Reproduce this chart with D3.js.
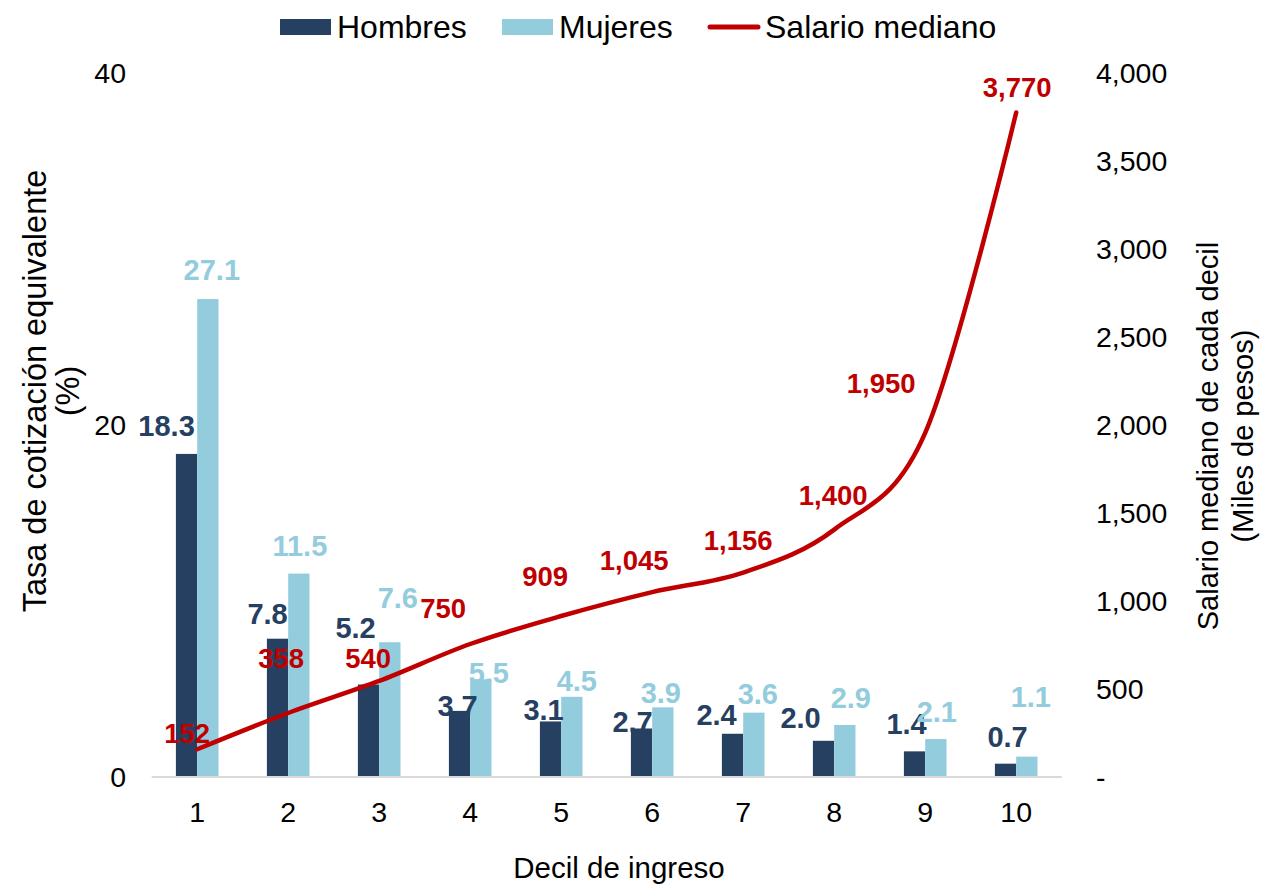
<!DOCTYPE html>
<html>
<head>
<meta charset="utf-8">
<script src="https://cdn.jsdelivr.net/npm/d3@7"></script>
<style>
  html, body { margin: 0; padding: 0; background: #ffffff; }
  svg { display: block; font-family: "Liberation Sans", Arial, sans-serif; }
</style>
</head>
<body>
<svg id="chart" width="1262" height="884"></svg>
<script>
// Deciles of income
const deciles = ["1", "2", "3", "4", "5", "6", "7", "8", "9", "10"];
// Equivalent contribution rate (%) by sex
const hombres = [18.3, 7.8, 5.2, 3.7, 3.1, 2.7, 2.4, 2.0, 1.4, 0.7];
const mujeres = [27.1, 11.5, 7.6, 5.5, 4.5, 3.9, 3.6, 2.9, 2.1, 1.1];
// Median wage per decile (thousands of pesos)
const salario = [152, 358, 540, 750, 909, 1045, 1156, 1400, 1950, 3770];
// Axis ticks
const leftTicks = [0, 20, 40];
const rightTicks = [0, 500, 1000, 1500, 2000, 2500, 3000, 3500, 4000];
const seriesNames = ["Hombres", "Mujeres"];

// Hand-placed label nudges [dx, dy] from each mark's anchor
const hombresLabelShift = [[-20,-28],[-10,-25],[-13,-57],[-2,-5],[-7,-12],[-9,-7],[-16,-19],[-23,-23],[-8,-28],[2,-27]];
const mujeresLabelShift = [[4,-29],[1,-28],[8,-45],[8,-7],[5,-16],[-2,-15],[4,-19],[6,-27],[1,-27],[4,-60]];
const salarioLabelShift = [[-10,-16],[-7,-55],[-11,-23],[-27,-36],[-16,-40],[-18,-32],[-5,-32],[-1,-34],[-44,-50],[1,-25]];

const C_H = "#264061", C_M = "#93CDDD", C_S = "#C00000";
const svg = d3.select("#chart");

const x = d3.scaleBand().domain(deciles).range([151.7, 1061.7]).padding(0);
const bw = x.bandwidth();
const barW = 21.3;
const xs = d3.scaleBand().domain(seriesNames).range([bw / 2 - barW, bw / 2 + barW]);
const yL = d3.scaleLinear().domain([0, 40]).range([776, 72]);
const yR = d3.scaleLinear().domain([0, 4000]).range([776, 72]);

// baseline so that digits are visually centred on a y value
const mid = (fs) => fs * 0.358;

// Bars
const groups = [{ name: "Hombres", vals: hombres, color: C_H, shift: hombresLabelShift },
                { name: "Mujeres", vals: mujeres, color: C_M, shift: mujeresLabelShift }];
groups.forEach(g => {
  svg.append("g").selectAll("rect").data(g.vals).join("rect")
    .attr("x", (d, i) => x(deciles[i]) + xs(g.name))
    .attr("width", xs.bandwidth())
    .attr("y", d => yL(d))
    .attr("height", d => yL(0) - yL(d))
    .attr("fill", g.color);
});

// Category axis line
svg.append("line")
  .attr("x1", x.range()[0]).attr("x2", x.range()[1])
  .attr("y1", yL(0) + 1).attr("y2", yL(0) + 1)
  .attr("stroke", "#D9D9D9").attr("stroke-width", 2);

// Median wage line
const line = d3.line()
  .x((d, i) => x(deciles[i]) + bw / 2)
  .y(d => yR(d))
  .curve(d3.curveCardinal.tension(0));
svg.append("path").datum(salario)
  .attr("d", line)
  .attr("fill", "none").attr("stroke", C_S)
  .attr("stroke-width", 4.5).attr("stroke-linecap", "round").attr("stroke-linejoin", "round");

// Bar value labels
const fsBar = 29;
groups.forEach(g => {
  svg.append("g").selectAll("text").data(g.vals).join("text")
    .attr("x", (d, i) => x(deciles[i]) + xs(g.name) + xs.bandwidth() / 2 + g.shift[i][0])
    .attr("y", (d, i) => yL(d) + g.shift[i][1] + mid(fsBar))
    .attr("text-anchor", "middle")
    .attr("font-size", fsBar).attr("font-weight", "bold")
    .attr("fill", g.color)
    .text(d => d3.format(".1f")(d));
});

// Line value labels
const fsLine = 27.5;
svg.append("g").selectAll("text").data(salario).join("text")
  .attr("x", (d, i) => x(deciles[i]) + bw / 2 + salarioLabelShift[i][0])
  .attr("y", (d, i) => yR(d) + salarioLabelShift[i][1] + mid(fsLine))
  .attr("text-anchor", "middle")
  .attr("font-size", fsLine).attr("font-weight", "bold")
  .attr("fill", C_S)
  .text(d => d3.format(",")(d));

// Left axis
const fsTick = 28.5;
const axL = d3.axisLeft(yL).tickValues(leftTicks).tickSize(0).tickPadding(0);
svg.append("g").attr("transform", "translate(126,0)").call(axL)
  .call(g => g.select(".domain").remove())
  .call(g => g.selectAll("text").attr("font-size", fsTick).attr("font-family", null)
    .attr("fill", "#000").attr("dy", null).attr("dominant-baseline", null)
    .attr("y", mid(fsTick)));

// Right axis
const axR = d3.axisRight(yR).tickValues(rightTicks).tickSize(0).tickPadding(0)
  .tickFormat(d => d === 0 ? "-" : d3.format(",")(d));
svg.append("g").attr("transform", "translate(1096,0)").call(axR)
  .call(g => g.select(".domain").remove())
  .call(g => g.selectAll("text").attr("font-size", fsTick).attr("font-family", null)
    .attr("fill", "#000").attr("dy", null)
    .attr("y", mid(fsTick)));

// Bottom axis
const axB = d3.axisBottom(x).tickSize(0).tickPadding(0);
svg.append("g").attr("transform", "translate(0,812)").call(axB)
  .call(g => g.select(".domain").remove())
  .call(g => g.selectAll("text").attr("font-size", fsTick).attr("font-family", null)
    .attr("fill", "#000").attr("dy", null).attr("y", mid(fsTick)));

// Axis titles
svg.append("text").attr("x", 619).attr("y", 878)
  .attr("text-anchor", "middle").attr("font-size", 29.5).attr("fill", "#000")
  .text("Decil de ingreso");

const leftTitle = svg.append("text").attr("transform", "translate(35,391) rotate(-90)")
  .attr("text-anchor", "middle").attr("font-size", 32.5).attr("fill", "#000");
leftTitle.append("tspan").attr("x", 0).attr("y", 11).text("Tasa de cotización equivalente");
leftTitle.append("tspan").attr("x", 0).attr("y", 44).text("(%)");

const rightTitle = svg.append("text").attr("transform", "translate(1208,436) rotate(-90)")
  .attr("text-anchor", "middle").attr("font-size", 29).attr("fill", "#000");
rightTitle.append("tspan").attr("x", 0).attr("y", 10).text("Salario mediano de cada decil");
rightTitle.append("tspan").attr("x", 0).attr("y", 45).text("(Miles de pesos)");

// Legend
const legend = svg.append("g");
const legItems = [
  { label: "Hombres", color: C_H, type: "rect", x: 280 },
  { label: "Mujeres", color: C_M, type: "rect", x: 502 },
  { label: "Salario mediano", color: C_S, type: "line", x: 708 }
];
legItems.forEach(it => {
  if (it.type === "rect") {
    legend.append("rect").attr("x", it.x).attr("y", 19).attr("width", 51).attr("height", 16).attr("fill", it.color);
  } else {
    legend.append("line").attr("x1", it.x + 2).attr("x2", it.x + 50).attr("y1", 27).attr("y2", 27)
      .attr("stroke", it.color).attr("stroke-width", 5).attr("stroke-linecap", "round");
  }
  legend.append("text").attr("x", it.x + 57).attr("y", 38)
    .attr("font-size", 32).attr("fill", "#000").text(it.label);
});
</script>
</body>
</html>
